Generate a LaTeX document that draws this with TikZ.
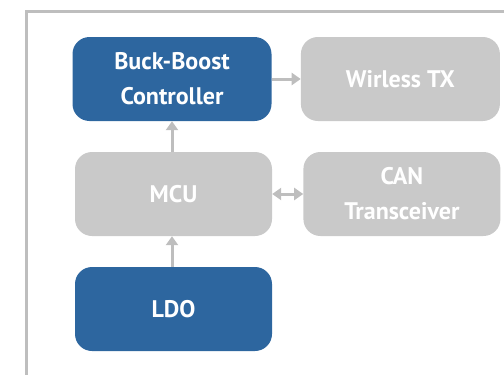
\documentclass[tikz,border=0pt]{standalone}
\usepackage{fontspec}
\setmainfont{PT Sans}
\usetikzlibrary{positioning,arrows.meta}
\definecolor{boxblue}{HTML}{2D669F}
\definecolor{boxgrey}{HTML}{C9C9C9}
\definecolor{linegrey}{HTML}{BEBEBE}
\tikzset{
  blockbase/.style={rounded corners=17pt, minimum width=199pt, minimum height=84pt, inner sep=0pt,
    text=white, align=center, font=\fontsize{24}{35}\selectfont\bfseries},
  blueblock/.style={blockbase, fill=boxblue},
  greyblock/.style={blockbase, fill=boxgrey},
  tip/.style={Triangle[length=9pt,width=12pt]},
  link/.style={draw=linegrey, line width=3pt, -{Triangle[length=9pt,width=12pt]}},
}

\begin{document}
\begin{tikzpicture}[x=1pt,y=-1pt]
\useasboundingbox (0,0) rectangle (504,375);
\draw[linegrey, line width=3pt] (26,376) -- (26,11) -- (505,11);%frame
\node[blueblock] (buck) at (172,79) {Buck-Boost\\Controller};
\node[greyblock, right=29pt of buck] (tx) {Wirless TX};
\node[greyblock, minimum width=197pt] (mcu) at (173.5,194) {MCU};
\node[greyblock, minimum width=197pt, right=31pt of mcu] (can) {CAN\\Transceiver};
\node[blueblock, minimum width=197pt] (ldo) at (173.5,309) {LDO};
\draw[link] (buck) -- (tx);
\draw[link] (mcu.north -| buck.south) -- (buck.south);
\draw[link] (ldo.north -| buck.south) -- (mcu.south -| buck.south);
\draw[link, {Triangle[length=9pt,width=12pt]}-{Triangle[length=9pt,width=12pt]}] (mcu) -- (can);
\end{tikzpicture}
\end{document}
